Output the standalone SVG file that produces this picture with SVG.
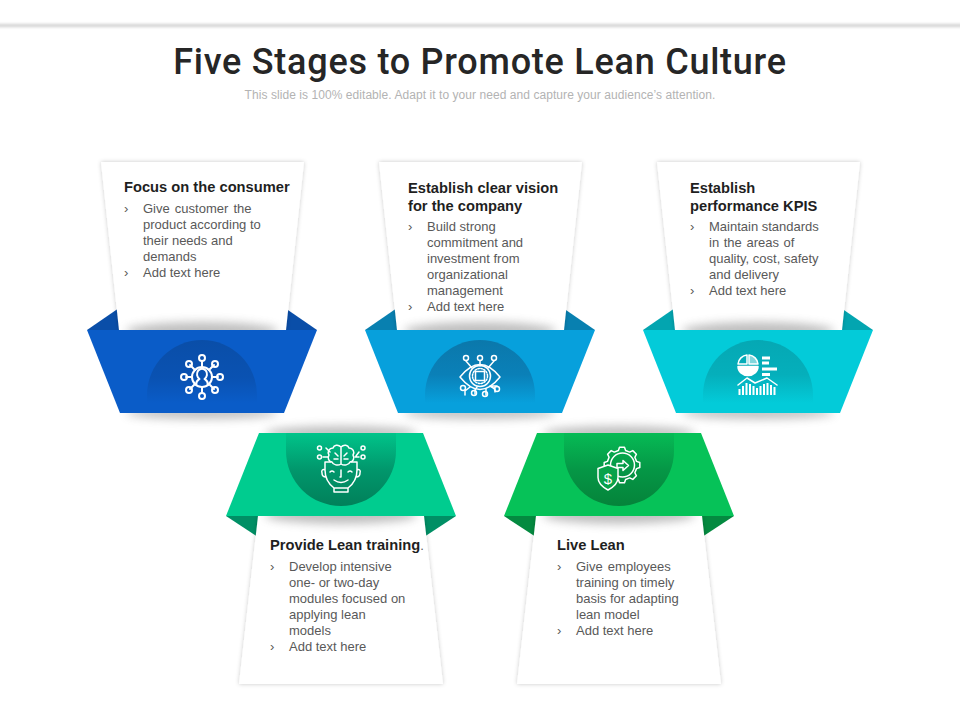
<svg xmlns="http://www.w3.org/2000/svg" width="960" height="720" viewBox="0 0 960 720">
<style>
.title{font:500 36px Roboto,"Liberation Sans",sans-serif;fill:#262626;letter-spacing:.75px;text-anchor:middle}
.sub{font:12px "Liberation Sans",Arial,sans-serif;fill:#b3b3b3;text-anchor:middle;letter-spacing:.06px}
.h{font:700 14.700px "Liberation Sans",Arial,sans-serif;fill:#1f1f1f}
.b{font:13px "Liberation Sans",Arial,sans-serif;fill:#595959}
.ic{fill:none;stroke:#fff;stroke-width:1.500;stroke-linecap:round;stroke-linejoin:round}
.card{fill:#fff;filter:url(#cs)}
.sh{fill:#666;opacity:.42;filter:url(#bl)}
</style>
<defs>
<filter id="cs" x="-10%" y="-10%" width="120%" height="120%"><feDropShadow dx="0" dy="0" stdDeviation="2" flood-color="#000" flood-opacity=".22"/></filter>
<filter id="bl" x="-20%" y="-100%" width="140%" height="300%"><feGaussianBlur stdDeviation="5"/></filter>
<filter id="bt" x="-5%" y="-300%" width="110%" height="700%"><feGaussianBlur stdDeviation="1.500"/></filter>
<linearGradient id="g1" x1="0" y1="0" x2="0" y2="1"><stop offset="0" stop-color="#0a4ea8"/><stop offset=".6" stop-color="#0a52b2"/><stop offset="1" stop-color="#0a5cc8"/></linearGradient>
<linearGradient id="g2" x1="0" y1="0" x2="0" y2="1"><stop offset="0" stop-color="#0b78ab"/><stop offset=".55" stop-color="#0a80b8"/><stop offset="1" stop-color="#07a0dc"/></linearGradient>
<linearGradient id="g3" x1="0" y1="0" x2="0" y2="1"><stop offset="0" stop-color="#05a8b4"/><stop offset=".55" stop-color="#05afbb"/><stop offset="1" stop-color="#03cbd9"/></linearGradient>
<linearGradient id="g4" x1="0" y1="1" x2="0" y2="0"><stop offset="0" stop-color="#01805a"/><stop offset=".5" stop-color="#01976c"/><stop offset="1" stop-color="#00c48a"/></linearGradient>
<linearGradient id="g5" x1="0" y1="1" x2="0" y2="0"><stop offset="0" stop-color="#05833a"/><stop offset=".5" stop-color="#059746"/><stop offset="1" stop-color="#06bb55"/></linearGradient>
<g id="topFlaps"><polygon points="87,330 119,308 119,330"/><polygon points="317,330 285,308 285,330"/></g>
<polygon id="topCard" class="card" points="101,162 304,162 286,330 119,330"/>
<polygon id="topBand" points="87,330 317,330 284,413 120,413"/>
<path id="topDome" d="M147 403V395A55 55 0 0 1 257 395V403Z"/>
<g id="botFlaps"><polygon points="226,516 258,537 258,516"/><polygon points="456,516 424,537 424,516"/></g>
<polygon id="botCard" class="card" points="258,516 424,516 443,684 239,684"/>
<polygon id="botBand" points="259,433 423,433 456,516 226,516"/>
<path id="botDome" d="M286 433V451A55 55 0 0 0 396 451V433Z"/>
</defs>

<rect id="topline" x="-10" y="24" width="980" height="3" fill="#cfcfcf" filter="url(#bt)"/>
<text class="title" x="480" y="74">Five Stages to Promote Lean Culture</text>
<text class="sub" x="480" y="99">This slide is 100% editable. Adapt it to your need and capture your audience’s attention.</text>

<g id="connectors"></g>

<g id="node1">
<use href="#topFlaps" fill="#0a4ea8"/><use href="#topCard"/>
<ellipse class="sh" cx="202" cy="331" rx="76" ry="9"/><ellipse class="sh" cx="202" cy="413" rx="76" ry="6"/>
<use href="#topBand" fill="#0a5cc8"/><use href="#topDome" fill="url(#g1)"/>
<g class="ic" stroke-width="2" style="stroke-width:2">
<circle cx="202" cy="377" r="10"/><path d="M196 385c0-4 2-5 3.500-6a5 5.500 0 1 1 5 0c1.500 1 3.500 2 3.500 6"/>
<path d="M202 367v-6M202 387v6M192 377h-6M212 377h6M195 370l-5-5M209 370l5-5M195 384l-5 5M209 384l5 5"/>
<circle cx="202" cy="358" r="3"/><circle cx="202" cy="396" r="3"/><circle cx="184" cy="377" r="3"/><circle cx="220" cy="377" r="3"/><circle cx="189" cy="364" r="3"/><circle cx="215" cy="364" r="3"/><circle cx="189" cy="390" r="3"/><circle cx="215" cy="390" r="3"/>
</g>
<text class="h" x="124" y="191.500">Focus on the consumer</text>
<text class="b" x="124" y="213">›</text><text class="b" x="143" y="213" word-spacing="1.500">Give customer the</text>
<text class="b" x="143" y="229">product according to</text>
<text class="b" x="143" y="245">their needs and</text>
<text class="b" x="143" y="261">demands</text>
<text class="b" x="124" y="277">›</text><text class="b" x="143" y="277">Add text here</text>
</g>

<g id="node2">
<g transform="translate(278 0)"><use href="#topFlaps" fill="#0880b0"/><use href="#topCard"/>
<ellipse class="sh" cx="202" cy="331" rx="76" ry="9"/><ellipse class="sh" cx="202" cy="413" rx="76" ry="6"/>
<use href="#topBand" fill="#07a0dc"/><use href="#topDome" fill="url(#g2)"/></g>
<g class="ic">
<path d="M460 377Q480 352 500 377Q480 402 460 377Z"/><circle cx="480" cy="376" r="10.500"/><circle cx="480" cy="376" r="7.500" stroke-dasharray="1.500 1.500"/><rect x="475.500" y="371.500" width="9" height="9"/>
<path d="M466 361l6 7M480 361v5M494 361l-6 7M465 395v-4l5-4M475 394v-4l2-3M486 395v-6M495 392v-3l-5-3M497 386h-5"/>
<circle cx="466" cy="358" r="2.500"/><circle cx="480" cy="358" r="2.500"/><circle cx="494" cy="358" r="2.500"/><circle cx="463" cy="388" r="2.500"/><circle cx="474" cy="393" r="2.500"/><circle cx="485" cy="394" r="2.500"/><circle cx="497" cy="389" r="2.500"/>
</g>
<text class="h" x="408" y="192.500">Establish clear vision</text>
<text class="h" x="408" y="210.500">for the company</text>
<text class="b" x="408" y="231">›</text><text class="b" x="427" y="231">Build strong</text>
<text class="b" x="427" y="247">commitment and</text>
<text class="b" x="427" y="263">investment from</text>
<text class="b" x="427" y="279">organizational</text>
<text class="b" x="427" y="295">management</text>
<text class="b" x="408" y="311">›</text><text class="b" x="427" y="311">Add text here</text>
</g>

<g id="node3">
<g transform="translate(556 0)"><use href="#topFlaps" fill="#03a5b0"/><use href="#topCard"/>
<ellipse class="sh" cx="202" cy="331" rx="76" ry="9"/><ellipse class="sh" cx="202" cy="413" rx="76" ry="6"/>
<use href="#topBand" fill="#03cbd9"/><use href="#topDome" fill="url(#g3)"/></g>
<g class="ic">
<path d="M747 364V355A10 10 0 0 0 738 364Z"/><path d="M749 364V355A10 10 0 0 1 758 364Z" fill="#fff" fill-opacity=".5"/><path d="M738 366.500H758A10 9 0 0 1 738 366.500Z" fill="#fff"/>
<path d="M762 358h8M762 363h7M762 369h15M762 374.500h8" stroke-width="3" stroke-linecap="butt" style="stroke-width:3;stroke-linecap:butt"/>
<path d="M738 385L747 378L755 383L767 378L777 385"/>
<path d="M739.500 395v-6M743 395v-9M746.500 395v-12M750 395v-11M753.500 395v-9M757 395v-7M760.500 395v-9M764 395v-11M767.500 395v-12M771 395v-10M774.500 395v-8" style="stroke-width:2;stroke-linecap:butt"/>
</g>
<text class="h" x="690" y="192.500">Establish</text>
<text class="h" x="690" y="210.500">performance KPIS</text>
<text class="b" x="690" y="231">›</text><text class="b" x="709" y="231">Maintain standards</text>
<text class="b" x="709" y="247" word-spacing="1">in the areas of</text>
<text class="b" x="709" y="263">quality, cost, safety</text>
<text class="b" x="709" y="279">and delivery</text>
<text class="b" x="690" y="295">›</text><text class="b" x="709" y="295">Add text here</text>
</g>

<g id="node4">
<use href="#botFlaps" fill="#008f65"/><use href="#botCard"/>
<ellipse class="sh" cx="341" cy="433" rx="76" ry="7"/>
<ellipse class="sh" cx="341" cy="515" rx="76" ry="9"/>
<use href="#botBand" fill="#00cc8f"/><use href="#botDome" fill="url(#g4)"/>
<g class="ic">
<path d="M341 447c-3-3-7-2-8 1c-4 0-6 4-4 7c-2 3 0 7 3 7c1 3 6 4 9 2c3 2 8 1 9-2c3 0 5-4 3-7c2-3 0-7-4-7c-1-3-5-4-8-1ZM341 447v17M335 453l3 3M347 453l-3 3M334 459h4M348 459h-4"/>
<path d="M331 462l-6 0v8c0 9 5 15 9 18h14c4-3 9-9 9-18v-8l-6 0M325 470c-2-1-4 0-3 3c0 3 2 4 4 4M357 470c2-1 4 0 3 3c0 3-2 4-4 4M334 488v4h14v-4"/>
<path d="M330 472q2-2 4 0M348 472q2-2 4 0M341 470v7h-1M334 480q7 5 14 0"/>
<path d="M326 448l4 4M323 457h5M359 452l-3 4M355 457h4"/>
<circle cx="319.500" cy="448" r="2"/><circle cx="319.500" cy="457" r="2"/><circle cx="363" cy="448" r="2"/><circle cx="363" cy="457" r="2"/>
</g>
<text class="h" x="270" y="549.500">Provide Lean training<tspan style="font-weight:400;font-size:13px;fill:#595959">.</tspan></text>
<text class="b" x="270" y="571">›</text><text class="b" x="289" y="571">Develop intensive</text>
<text class="b" x="289" y="587">one- or two-day</text>
<text class="b" x="289" y="603">modules focused on</text>
<text class="b" x="289" y="619">applying lean</text>
<text class="b" x="289" y="635">models</text>
<text class="b" x="270" y="651">›</text><text class="b" x="289" y="651">Add text here</text>
</g>

<g id="node5">
<g transform="translate(278 0)"><use href="#botFlaps" fill="#048a40"/><use href="#botCard"/>
<ellipse class="sh" cx="341" cy="433" rx="76" ry="7"/>
<ellipse class="sh" cx="341" cy="515" rx="76" ry="9"/>
<use href="#botBand" fill="#06c258"/><use href="#botDome" fill="url(#g5)"/></g>
<g class="ic">
<polygon points="636.550,461.370 639.800,462.500 639.800,467.500 636.550,468.630 634.860,472.730 636.400,475.800 632.800,479.400 629.700,477.900 625.600,479.550 624.500,482.800 619.500,482.800 618.400,479.550 614.300,477.900 611.200,479.400 607.600,475.800 609.100,472.700 607.450,468.630 604.200,467.500 604.200,462.500 607.450,461.370 609.100,457.300 607.600,454.200 611.200,450.600 614.300,452.100 618.400,450.450 619.500,447.200 624.500,447.200 625.600,450.450 629.700,452.100 632.800,450.600 636.400,454.200 634.860,457.300"/>
<circle cx="622.500" cy="465" r="12"/>
<path d="M617 463.500h6v-3l5.500 5l-5.500 5v-3h-6Z"/>
<path d="M608 465l10 3.500v9c0 6-4.500 9.500-10 12.500c-5.500-3-10-6.500-10-12.500v-9Z" fill="#08a24a"/>
</g>
<text x="608" y="484" text-anchor="middle" font-family="Liberation Sans, Arial, sans-serif" font-size="15" fill="#fff">$</text>
<text class="h" x="557" y="549.500">Live Lean</text>
<text class="b" x="557" y="571">›</text><text class="b" x="576" y="571" word-spacing="1.500">Give employees</text>
<text class="b" x="576" y="587">training on timely</text>
<text class="b" x="576" y="603">basis for adapting</text>
<text class="b" x="576" y="619">lean model</text>
<text class="b" x="557" y="635">›</text><text class="b" x="576" y="635">Add text here</text>
</g>
</svg>
